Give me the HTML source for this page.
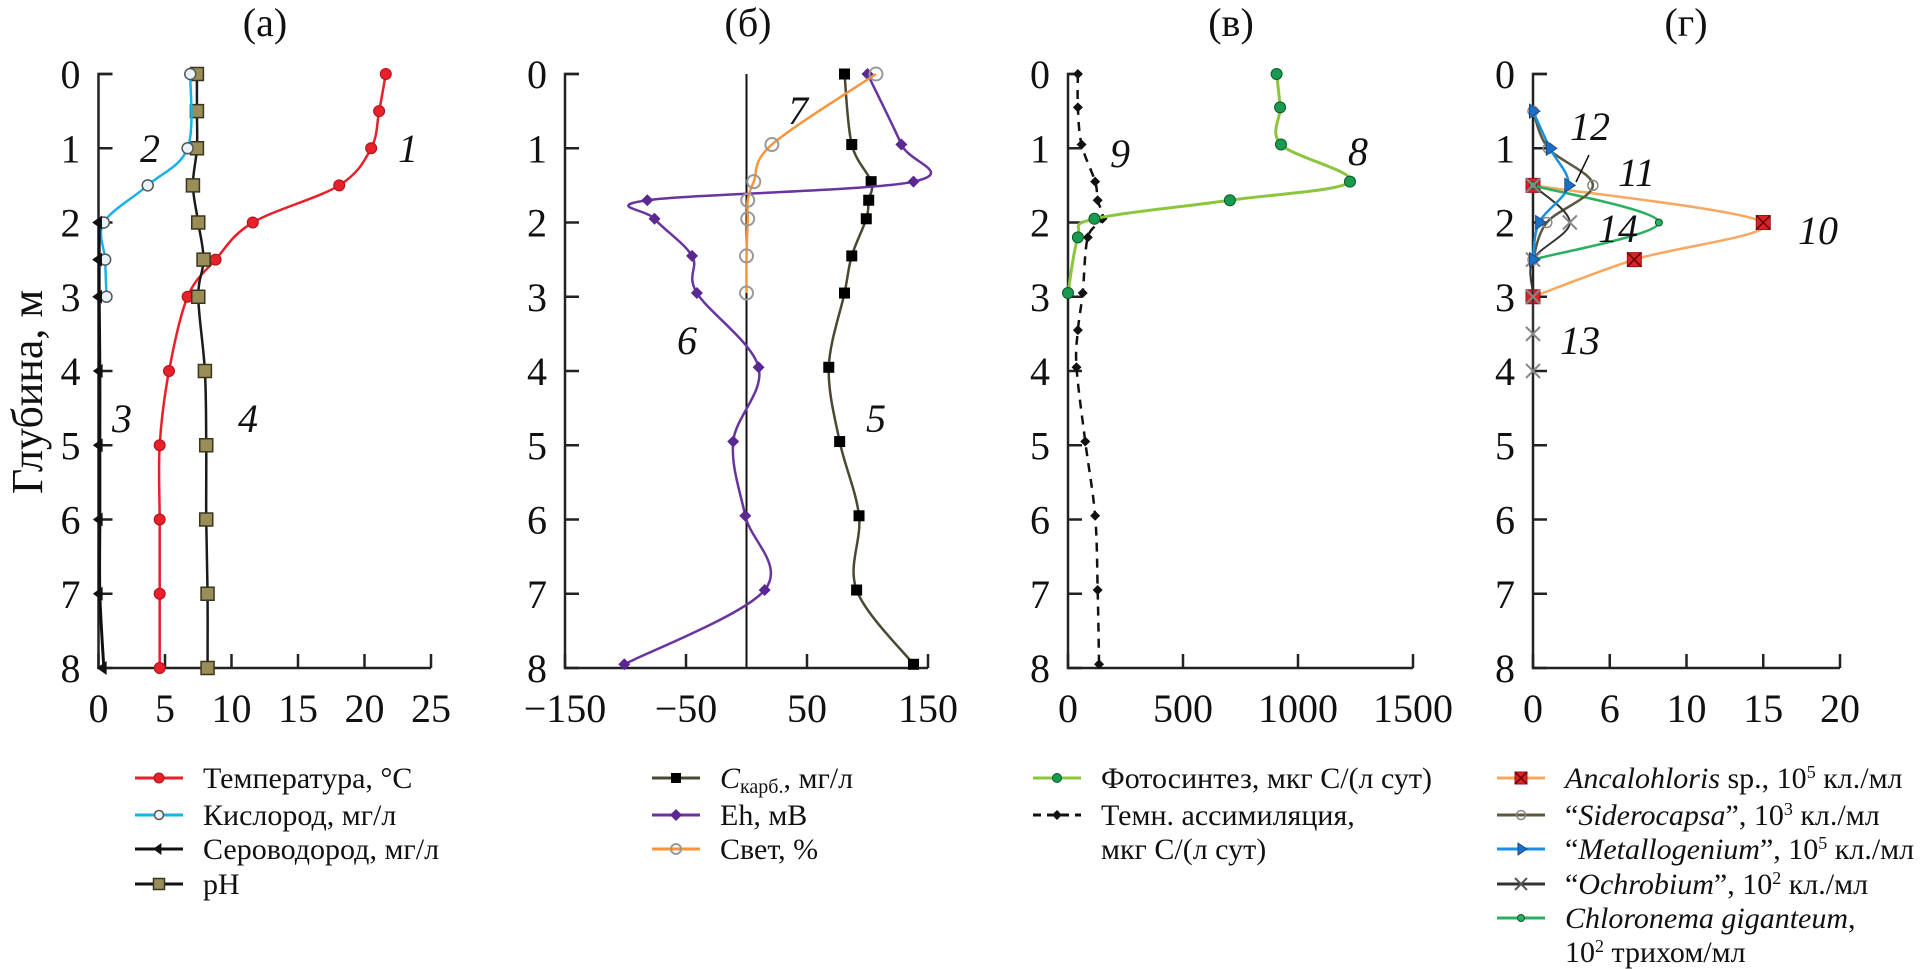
<!DOCTYPE html>
<html><head><meta charset="utf-8">
<style>
body{margin:0;background:#fff;width:1930px;height:969px;overflow:hidden}
svg{display:block}
text{font-family:"Liberation Serif","DejaVu Serif",serif;fill:#111}
.tick{font-size:40px}
.ytitle{font-size:44px}
.lab{font-size:40px;font-style:italic}
.leg{font-size:30px}
</style></head>
<body>
<svg id="chart" width="1930" height="969"></svg>
<script>
// ---- data ----
const tempDepth=[0,0.5,1,1.5,2,2.5,3,4,5,6,7,8];
const tempVal=[21.6,21.1,20.5,18.1,11.6,8.8,6.7,5.3,4.6,4.6,4.6,4.6];
const o2Depth=[0,1,1.5,2,2.5,3];
const o2Val=[6.9,6.7,3.7,0.4,0.5,0.6];
const h2sDepth=[2,2.5,3,4,5,6,7,8];
const h2sVal=[0.05,0.05,0.05,0.1,0.1,0.1,0.1,0.4];
const phDepth=[0,0.5,1,1.5,2,2.5,3,4,5,6,7,8];
const phVal=[7.4,7.4,7.4,7.1,7.5,7.9,7.5,8.0,8.1,8.1,8.2,8.2];
const ckDepth=[0,0.95,1.45,1.7,1.95,2.45,2.95,3.95,4.95,5.95,6.95,7.95];
const ckVal=[81,87,103,101,99,87,81,68,77,93,91,138];
const ehDepth=[0,0.95,1.45,1.7,1.95,2.45,2.95,3.95,4.95,5.95,6.95,7.95];
const ehVal=[100,128,138,-82,-76,-45,-41,10,-11,-1,15,-101];
const lightDepth=[0,0.95,1.45,1.7,1.95,2.45,2.95];
const lightVal=[107,21,6,1,1,0,0];
const photoDepth=[0,0.45,0.95,1.45,1.7,1.95,2.2,2.95];
const photoVal=[907,922,926,1226,704,115,43,0];
const darkDepth=[0,0.45,0.95,1.45,1.7,1.95,2.2,2.95,3.45,3.95,4.95,5.95,6.95,7.95];
const darkVal=[43,43,59,118,129,150,86,64,43,37,75,118,129,135];
const ancDepth=[1.5,2,2.5,3];
const ancVal=[0,15,6.6,0];
const sidDepth=[0.5,1,1.5,2,2.5];
const sidVal=[0,1.0,3.9,0.9,0];
const metDepth=[0.5,1,1.5,2,2.5];
const metVal=[0,1.1,2.3,0.4,0];
const ochDepth=[1.5,2,2.5,3,3.5,4];
const ochVal=[0,2.4,0,0,0,0];
const chlDepth=[1.5,2,2.5];
const chlVal=[0,8.2,0];
const depthTicks=[0,1,2,3,4,5,6,7,8];
const ticksA=[0,5,10,15,20,25];
const ticksB=[-150,-50,50,150];
const ticksV=[0,500,1000,1500];
const ticksG=[0,5,10,15,20];
const ticksGLabels=["0","6","10","15","20"];

// ---- scales ----
const Y0=74,Y8=668;
const y=d=>Y0+(Y8-Y0)*d/8;
const panels={
 a:{x0:98.5,x1:431,min:0,max:25},
 b:{x0:565,x1:928,min:-150,max:150},
 v:{x0:1068,x1:1413,min:0,max:1500},
 g:{x0:1533,x1:1840,min:0,max:20}
};
const sx=p=>v=>p.x0+(p.x1-p.x0)*(v-p.min)/(p.max-p.min);
const xA=sx(panels.a),xB=sx(panels.b),xV=sx(panels.v),xG=sx(panels.g);

const NS="http://www.w3.org/2000/svg";
const svg=document.getElementById('chart');
function mk(tag,attrs,parent){const e=document.createElementNS(NS,tag);for(const k in attrs)e.setAttribute(k,attrs[k]);(parent||svg).appendChild(e);return e;}
function spline(pts){
 if(pts.length<2)return '';
 let d='M'+pts[0][0]+','+pts[0][1];
 for(let i=0;i<pts.length-1;i++){
  const p0=pts[i-1]||pts[i],p1=pts[i],p2=pts[i+1],p3=pts[i+2]||p2;
  const c1=[p1[0]+(p2[0]-p0[0])/6,p1[1]+(p2[1]-p0[1])/6];
  const c2=[p2[0]-(p3[0]-p1[0])/6,p2[1]-(p3[1]-p1[1])/6];
  d+=' C'+c1[0]+','+c1[1]+' '+c2[0]+','+c2[1]+' '+p2[0]+','+p2[1];
 }
 return d;
}
function marker(type,cx,cy,s,g){
 let e;
 if(type==='circle')e=mk('circle',{cx,cy,r:s.r||5,fill:s.fill,stroke:s.stroke||'none','stroke-width':s.sw||1.5},g);
 else if(type==='square'){const h=s.r||6;e=mk('rect',{x:cx-h,y:cy-h,width:2*h,height:2*h,fill:s.fill,stroke:s.stroke||'none','stroke-width':1.5},g);}
 else if(type==='diamond'){const h=s.r||6;e=mk('polygon',{points:`${cx},${cy-h} ${cx+h},${cy} ${cx},${cy+h} ${cx-h},${cy}`,fill:s.fill},g);}
 else if(type==='triL'){const h=s.r||7;e=mk('polygon',{points:`${cx-h},${cy} ${cx+h*0.4},${cy-h} ${cx+h*0.4},${cy+h}`,fill:s.fill},g);}
 else if(type==='triR'){const h=s.r||7;e=mk('polygon',{points:`${cx+h},${cy} ${cx-h*0.5},${cy-h} ${cx-h*0.5},${cy+h}`,fill:s.fill,stroke:'#1a4a80','stroke-width':1},g);}
 else if(type==='xsq'){const h=s.r||7;mk('rect',{x:cx-h,y:cy-h,width:2*h,height:2*h,fill:'#d8232a',stroke:'#a01018','stroke-width':1},g);e=mk('path',{d:`M${cx-h},${cy-h}L${cx+h},${cy+h}M${cx+h},${cy-h}L${cx-h},${cy+h}`,stroke:'#600','stroke-width':1.5},g);}
 else if(type==='x'){const h=s.r||7;e=mk('path',{d:`M${cx-h},${cy-h}L${cx+h},${cy+h}M${cx+h},${cy-h}L${cx-h},${cy+h}`,stroke:s.fill,'stroke-width':2},g);}
 
 
}
function series(name,depths,vals,xf,style){
 const g=mk('g',{});
 
 
 const pts=depths.map((d,i)=>[xf(vals[i]),y(d)]);
 const p=mk('path',{d:spline(pts),fill:'none',stroke:style.color,'stroke-width':style.w||2.5},g);
 if(style.dash)p.setAttribute('stroke-dasharray',style.dash);
 
 
 if(style.marker)pts.forEach(pt=>marker(style.marker,pt[0],pt[1],style.m,g));
}
function txt(s,x,yy,cls,anchor,parent,name){
 const t=mk('text',{x,y:yy,class:cls,'text-anchor':anchor||'start'},parent);
 t.innerHTML=s;
 
 
 return t;
}
function axes(key,p,xf,xt,xtl,title,titleX){
 const g=mk('g',{});
 
 
 mk('path',{d:`M${p.x0+14},${Y0}H${p.x0}V${Y8}H${p.x1}`,fill:'none',stroke:'#222','stroke-width':2.5},g);
 depthTicks.forEach(d=>{
  mk('line',{x1:p.x0,x2:p.x0+14,y1:y(d),y2:y(d),stroke:'#222','stroke-width':2.5},g);
  txt(String(d),p.x0-18,y(d)+14,'tick','end',g,'y-tick-label');
 });
 xt.forEach((v,i)=>{
  mk('line',{x1:xf(v),x2:xf(v),y1:Y8,y2:Y8-14,stroke:'#222','stroke-width':2.5},g);
  txt(xtl?xtl[i]:String(v).replace('-','\u2212'),xf(v),722,'tick','middle',g,'x-tick-label');
 });
 txt(title,titleX,36,'tick','middle',g,'panel-title');
}
axes('a',panels.a,xA,ticksA,null,'(а)',265);
axes('b',panels.b,xB,ticksB,null,'(б)',748);
axes('v',panels.v,xV,ticksV,null,'(в)',1231);
axes('g',panels.g,xG,ticksG,ticksGLabels,'(г)',1686);
const zl=mk('line',{x1:xB(0),x2:xB(0),y1:Y0,y2:Y8,stroke:'#111','stroke-width':2});



// y title
const yt=mk('text',{x:0,y:0,class:'ytitle','text-anchor':'middle',transform:'translate(42,392) rotate(-90)'});
yt.textContent='Глубина, м';



// series
series('temperature',tempDepth,tempVal,xA,{color:'#e8202a',marker:'circle',m:{r:5.5,fill:'#e8202a',stroke:'#b01018',sw:1}});
series('ph',phDepth,phVal,xA,{color:'#1a1a1a',marker:'square',m:{r:6.5,fill:'#9a8e58',stroke:'#3a3520'}});
series('oxygen',o2Depth,o2Val,xA,{color:'#1ab0e8',marker:'circle',m:{r:5.5,fill:'#e8f4f8',stroke:'#555',sw:1.5}});
series('hydrogen-sulfide',h2sDepth,h2sVal,xA,{color:'#111',w:3,marker:'triL',m:{r:7,fill:'#111'}});

series('c-carb',ckDepth,ckVal,xB,{color:'#4a4830',marker:'square',m:{r:5.5,fill:'#000'}});
series('eh',ehDepth,ehVal,xB,{color:'#6a34a0',marker:'diamond',m:{r:6,fill:'#5a2890'}});
series('light',lightDepth,lightVal,xB,{color:'#f7953a',marker:'circle',m:{r:6.5,fill:'none',stroke:'#999',sw:2}});

series('dark-assimilation',darkDepth,darkVal,xV,{color:'#111',dash:'9,7',w:2.5,marker:'diamond',m:{r:5,fill:'#111'}});
series('photosynthesis',photoDepth,photoVal,xV,{color:'#8cc63f',w:3,marker:'circle',m:{r:5.5,fill:'#1a9a50',stroke:'#0a5a28',sw:1}});

series('ancalohloris',ancDepth,ancVal,xG,{color:'#f8a860',marker:'xsq',m:{r:7}});
series('chloronema',chlDepth,chlVal,xG,{color:'#2ab060',marker:'circle',m:{r:3.5,fill:'#2ab060',stroke:'#0a5a28',sw:1}});
series('siderocapsa',sidDepth,sidVal,xG,{color:'#5a5840',marker:'circle',m:{r:5,fill:'none',stroke:'#888',sw:1.5}});
series('ochrobium',ochDepth,ochVal,xG,{color:'#333',w:2,marker:'x',m:{r:7,fill:'#888'}});
series('metallogenium',metDepth,metVal,xG,{color:'#1a90e0',marker:'triR',m:{r:7,fill:'#1a70c8'}});

// curve labels
[['1',398,162],['2',140,162],['3',112,432],['4',238,432],['7',788,124],['6',677,354],['5',866,432],['8',1348,165],['9',1110,167],['12',1570,140],['11',1618,186],['14',1598,242],['13',1560,354],['10',1798,244]]
.forEach(a=>txt(a[0],a[1],a[2],'lab','start',svg,'curve-label'));
const ld=mk('line',{x1:1589,y1:155,x2:1576,y2:182,stroke:'#111','stroke-width':1.5});



// legends
function legItem(x,yy,color,mtype,m,label,dash){
 const g=mk('g',{});
 
 
 const l=mk('line',{x1:x,x2:x+48,y1:yy,y2:yy,stroke:color,'stroke-width':3},g);
 if(dash)l.setAttribute('stroke-dasharray',dash);
 marker(mtype,x+24,yy,m,g);
 txt(label,x+68,yy+10,'leg','start',g,'legend-label');
}
legItem(135,778,'#e8202a','circle',{r:5,fill:'#e8202a',stroke:'#b01018',sw:1},'Температура, °С');
legItem(135,815,'#1ab0e8','circle',{r:4.5,fill:'#e8f4f8',stroke:'#555'},'Кислород, мг/л');
legItem(135,849,'#111','triL',{r:6,fill:'#111'},'Сероводород, мг/л');
legItem(135,884,'#111','square',{r:5.5,fill:'#9a8e58',stroke:'#3a3520'},'pH');
legItem(652,778,'#4a4830','square',{r:5,fill:'#000'},'<tspan font-style="italic">C</tspan><tspan font-size="20" dy="5">карб.</tspan><tspan dy="-5">, мг/л</tspan>');
legItem(652,815,'#6a34a0','diamond',{r:6,fill:'#5a2890'},'Eh, мВ');
legItem(652,849,'#f7953a','circle',{r:5,fill:'none',stroke:'#999',sw:2},'Свет, %');
legItem(1033,778,'#8cc63f','circle',{r:4.5,fill:'#1a9a50',stroke:'#0a5a28',sw:1},'Фотосинтез, мкг С/(л сут)');
legItem(1033,815,'#111','diamond',{r:5,fill:'#111'},'Темн. ассимиляция,','8,6');
txt('мкг С/(л сут)',1101,859,'leg','start',svg,'legend-label');
legItem(1497,778,'#f8a860','xsq',{r:6},'<tspan font-style="italic">Ancalohloris</tspan> sp., 10<tspan font-size="18" dy="-10">5</tspan><tspan dy="10"> кл./мл</tspan>');
legItem(1497,815,'#5a5840','circle',{r:4.5,fill:'none',stroke:'#888'},'“<tspan font-style="italic">Siderocapsa</tspan>”, 10<tspan font-size="18" dy="-10">3</tspan><tspan dy="10"> кл./мл</tspan>');
legItem(1497,849,'#1a90e0','triR',{r:6,fill:'#1a70c8'},'“<tspan font-style="italic">Metallogenium</tspan>”, 10<tspan font-size="18" dy="-10">5</tspan><tspan dy="10"> кл./мл</tspan>');
legItem(1497,884,'#333','x',{r:6,fill:'#555'},'“<tspan font-style="italic">Ochrobium</tspan>”, 10<tspan font-size="18" dy="-10">2</tspan><tspan dy="10"> кл./мл</tspan>');
legItem(1497,918,'#2ab060','circle',{r:3.5,fill:'#2ab060',stroke:'#0a5a28',sw:1},'<tspan font-style="italic">Chloronema giganteum</tspan>,');
txt('10<tspan font-size="18" dy="-10">2</tspan><tspan dy="10"> трихом/мл</tspan>',1565,962,'leg','start',svg,'legend-label');
</script>
</body></html>
